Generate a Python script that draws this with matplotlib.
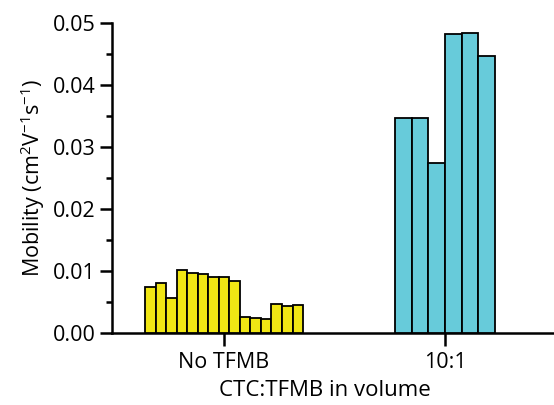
import matplotlib
matplotlib.use("Agg")
import matplotlib.pyplot as plt
import numpy as np

plt.rcParams['font.family'] = ['Open Sans', 'DejaVu Sans']
plt.rcParams['mathtext.default'] = 'regular'

categories = ["No TFMB", "10:1"]
no_tfmb = [0.0074, 0.0080, 0.0057, 0.0101, 0.0097, 0.0095, 0.0091, 0.0091, 0.0083,
           0.0026, 0.0024, 0.0022, 0.0046, 0.0044, 0.0045]
ratio_10_1 = [0.0346, 0.0346, 0.0274, 0.0482, 0.0483, 0.0447]
yticks = [0.00, 0.01, 0.02, 0.03, 0.04, 0.05]

fig = plt.figure(figsize=(5.54, 4.05), dpi=100)
ax = fig.add_axes([112/554, 72/405, 442/554, 310.3/405])

def draw_group(center, vals, width, color):
    n = len(vals)
    xs = center + (np.arange(n) - (n - 1) / 2) * width
    ax.bar(xs, vals, width=width, color=color, edgecolor='black', linewidth=1.3, zorder=3)

draw_group(1, no_tfmb, 0.04766, '#F0E614')
draw_group(2, ratio_10_1, 0.0749, '#67CBDA')

ax.set_xlim(0.493, 2.493)
ax.set_ylim(0, 0.05)
ax.set_xticks([1, 2])
ax.set_xticklabels(categories)
ax.set_yticks(yticks)
ax.set_yticklabels([f"{t:.2f}" for t in yticks])
ax.set_yticks(np.arange(0.005, 0.05, 0.01), minor=True)

for s in ['top', 'right']:
    ax.spines[s].set_visible(False)
for s in ['left', 'bottom']:
    ax.spines[s].set_linewidth(1.8)

ax.tick_params(axis='both', which='major', direction='out', length=9, width=1.8, labelsize=15.5, pad=3)
ax.tick_params(axis='x', which='major', pad=5)
ax.tick_params(axis='y', which='minor', direction='out', length=4, width=1.8)

ax.set_ylabel(r'Mobility (cm$^{2}$V$^{-1}$s$^{-1}$)', fontsize=15.5)
ax.yaxis.set_label_coords(-0.147, 0.5)
ax.set_xlabel('CTC:TFMB in volume', fontsize=16)
ax.xaxis.set_label_coords(0.482, -0.152)

fig.savefig('out.png', dpi=100)
